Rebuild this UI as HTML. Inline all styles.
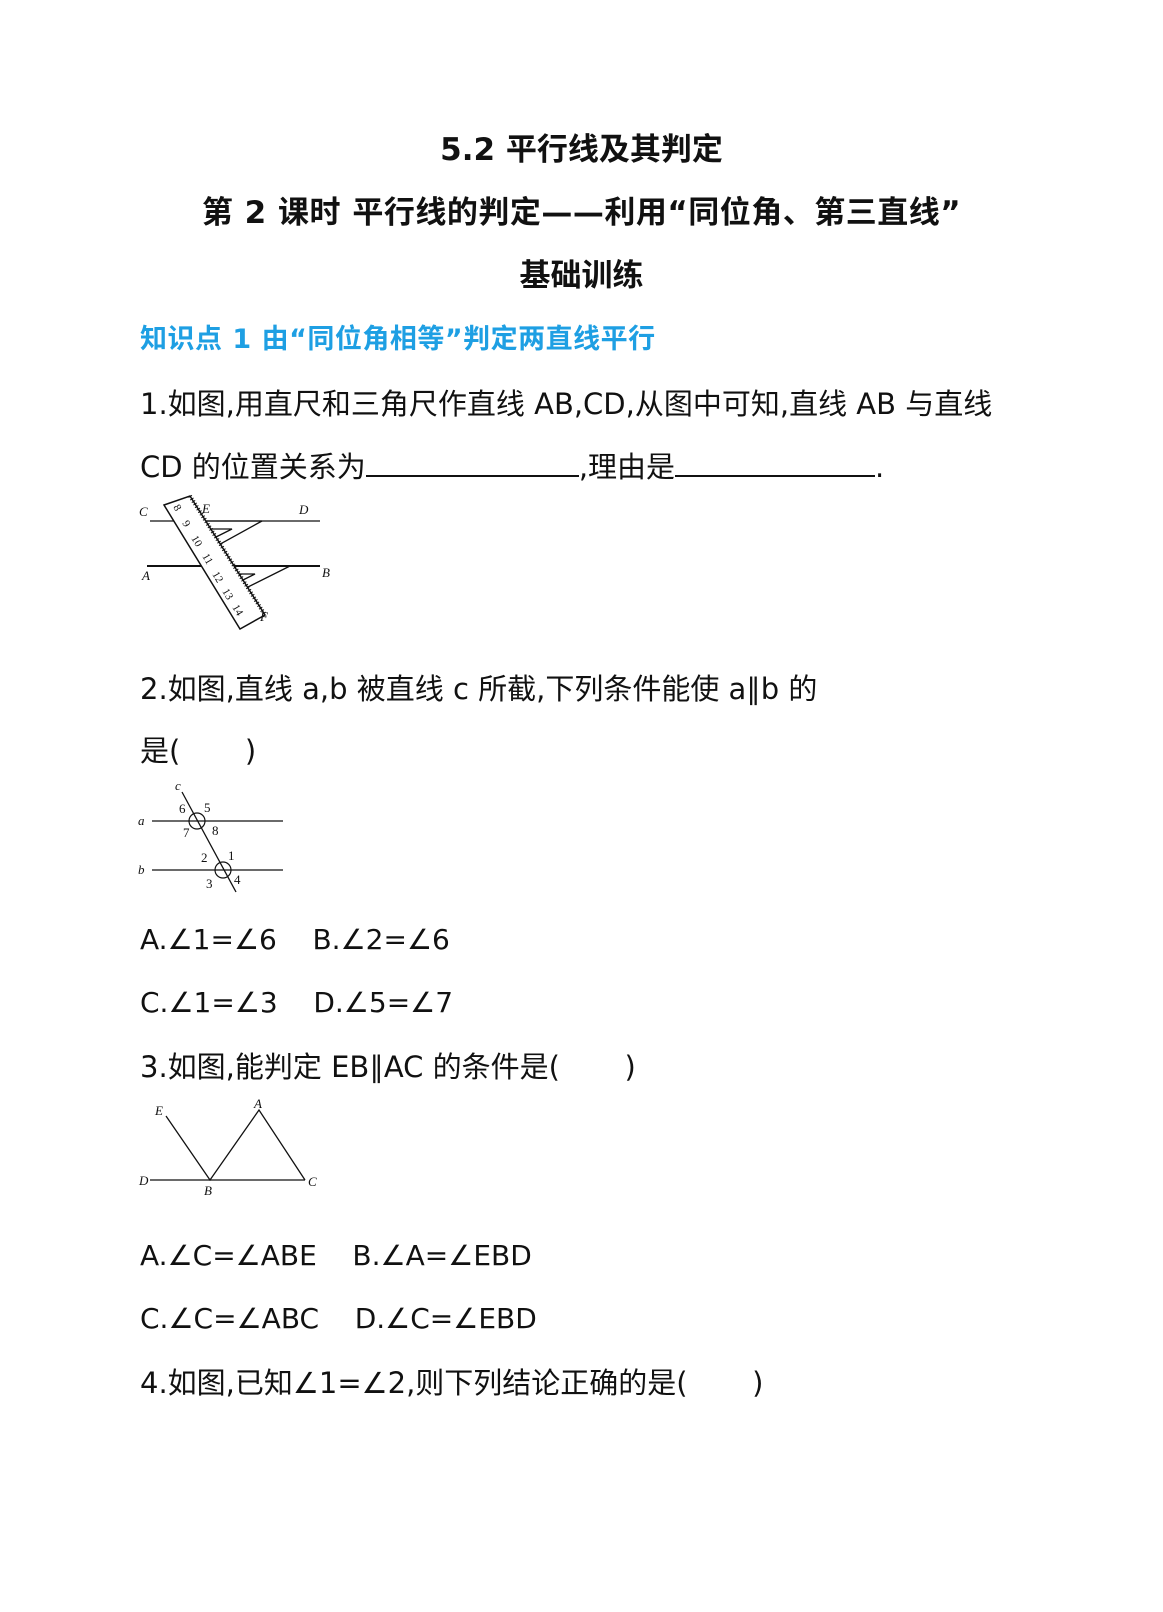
<!DOCTYPE html>
<html><head><meta charset="utf-8"><style>
html,body{margin:0;padding:0;background:#fff;}
body{width:1163px;height:1612px;position:relative;overflow:hidden;font-family:"DejaVu Sans","Liberation Sans","Noto Sans CJK SC",sans-serif;color:#111;}
.t{position:absolute;white-space:nowrap;line-height:1;}
.h{font-weight:bold;font-size:31px;left:0;width:1163px;text-align:center;}
.b{font-size:29px;left:140px;}
.o{font-size:28px;left:140px;}
.blue{color:#1e9fe3;font-weight:bold;font-size:27px;left:140px;}
.u{display:inline-block;border-bottom:2px solid #111;height:22px;vertical-align:baseline;}
svg{position:absolute;left:0;top:0;}
svg text{font-family:"Liberation Serif",serif;font-style:italic;font-size:13px;}
</style></head><body>
<div class="t h" style="top:135px">5.2 平行线及其判定</div>
<div class="t h" style="top:198px;letter-spacing:0.5px">第 2 课时 平行线的判定——利用“同位角、第三直线”</div>
<div class="t h" style="top:261px">基础训练</div>
<div class="t blue" style="top:326px;letter-spacing:0.5px">知识点 1 由“同位角相等”判定两直线平行</div>
<div class="t b" style="top:390px">1.如图,用直尺和三角尺作直线 AB,CD,从图中可知,直线 AB 与直线</div>
<div class="t b" style="top:453px">CD 的位置关系为<span class="u" style="width:213px"></span>,理由是<span class="u" style="width:200px"></span>.</div>
<div class="t b" style="top:675px">2.如图,直线 a,b 被直线 c 所截,下列条件能使 a∥b 的</div>
<div class="t b" style="top:737px">是(&nbsp;&nbsp;&nbsp;&nbsp;&nbsp;&nbsp;&nbsp;)</div>
<div class="t o" style="top:926px">A.∠1=∠6&nbsp;&nbsp;&nbsp;&nbsp;B.∠2=∠6</div>
<div class="t o" style="top:989px">C.∠1=∠3&nbsp;&nbsp;&nbsp;&nbsp;D.∠5=∠7</div>
<div class="t b" style="top:1053px">3.如图,能判定 EB∥AC 的条件是(&nbsp;&nbsp;&nbsp;&nbsp;&nbsp;&nbsp;&nbsp;)</div>
<div class="t o" style="top:1242px">A.∠C=∠ABE&nbsp;&nbsp;&nbsp;&nbsp;B.∠A=∠EBD</div>
<div class="t o" style="top:1305px">C.∠C=∠ABC&nbsp;&nbsp;&nbsp;&nbsp;D.∠C=∠EBD</div>
<div class="t b" style="top:1369px">4.如图,已知∠1=∠2,则下列结论正确的是(&nbsp;&nbsp;&nbsp;&nbsp;&nbsp;&nbsp;&nbsp;)</div>
<svg width="1163" height="1612" stroke="#111" fill="none">
<!-- fig1 -->
<line x1="150" y1="521" x2="320" y2="521" stroke-width="1.3"/>
<line x1="147" y1="566" x2="320" y2="566" stroke-width="2"/>
<polygon points="205,521 262,521 215,547" stroke-width="1.3"/>
<polygon points="210,529 232,529 216,537" stroke-width="1.3"/>
<polygon points="228,566 290,566 238,592" stroke-width="1.3"/>
<polygon points="233,574 255,574 239,582" stroke-width="1.3"/>
<polygon points="164,505 190,496 265,615 240,629" fill="#fff" stroke-width="1.5"/>
<line x1="190" y1="496" x2="265" y2="615" stroke-width="4" stroke-dasharray="1 2"/>
<text x="139" y="516" fill="#111" stroke="none">C</text>
<text x="202" y="513" fill="#111" stroke="none">E</text>
<text x="299" y="514" fill="#111" stroke="none">D</text>
<text x="142" y="580" fill="#111" stroke="none">A</text>
<text x="322" y="577" fill="#111" stroke="none">B</text>
<text x="260" y="621" fill="#111" stroke="none">F</text>
<g fill="#111" stroke="none">
<text transform="translate(173,507) rotate(60)" style="font-style:normal;font-size:11px">8</text>
<text transform="translate(182,523) rotate(60)" style="font-style:normal;font-size:11px">9</text>
<text transform="translate(191,538) rotate(60)" style="font-style:normal;font-size:11px">10</text>
<text transform="translate(202,556) rotate(60)" style="font-style:normal;font-size:11px">11</text>
<text transform="translate(212,574) rotate(60)" style="font-style:normal;font-size:11px">12</text>
<text transform="translate(222,591) rotate(60)" style="font-style:normal;font-size:11px">13</text>
<text transform="translate(232,607) rotate(60)" style="font-style:normal;font-size:11px">14</text>
</g>
<!-- fig2 -->
<line x1="152" y1="821" x2="283" y2="821" stroke-width="1.3"/>
<line x1="152" y1="870" x2="283" y2="870" stroke-width="1.3"/>
<line x1="182" y1="792" x2="236" y2="892" stroke-width="1.3"/>
<circle cx="197" cy="821" r="8" stroke-width="1.2"/>
<circle cx="223" cy="870" r="8" stroke-width="1.2"/>
<g fill="#111" stroke="none">
<text x="175" y="790">c</text><text x="138" y="825">a</text><text x="138" y="874">b</text>
<text x="179" y="813" style="font-style:normal">6</text><text x="204" y="812" style="font-style:normal">5</text>
<text x="183" y="837" style="font-style:normal">7</text><text x="212" y="835" style="font-style:normal">8</text>
<text x="201" y="862" style="font-style:normal">2</text><text x="228" y="860" style="font-style:normal">1</text>
<text x="206" y="888" style="font-style:normal">3</text><text x="234" y="884" style="font-style:normal">4</text>
</g>
<!-- fig3 -->
<polyline points="166,1116 210,1180 259,1110 305,1180" stroke-width="1.3"/>
<line x1="150" y1="1180" x2="305" y2="1180" stroke-width="1.3"/>
<g fill="#111" stroke="none">
<text x="155" y="1115">E</text><text x="254" y="1108">A</text><text x="139" y="1185">D</text>
<text x="204" y="1195">B</text><text x="308" y="1186">C</text>
</g>
</svg>
</body></html>
